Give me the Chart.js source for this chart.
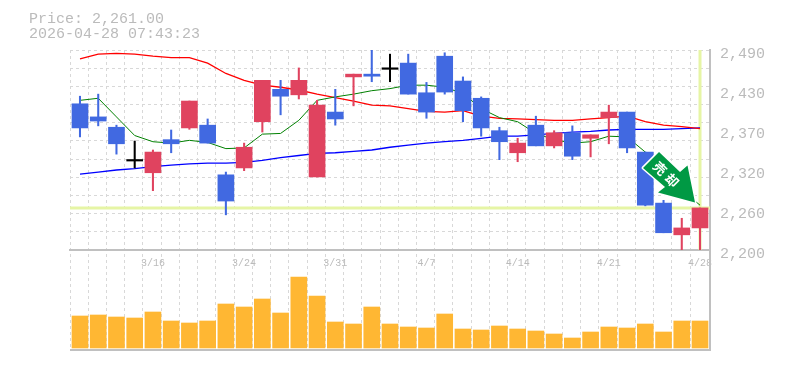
<!DOCTYPE html>
<html>
<head>
<meta charset="utf-8">
<style>
  html, body { margin: 0; padding: 0; background: #fff; }
  canvas { display: block; }
</style>
<script src="https://cdn.jsdelivr.net/npm/chart.js@4"></script>
</head>
<body>
<canvas id="priceChart" width="785" height="370"></canvas>
<script>
const dates = ["3/10","3/11","3/12","3/13","3/16","3/17","3/18","3/19","3/23","3/24","3/25","3/26","3/27","3/30","3/31",
  "4/1","4/2","4/3","4/6","4/7","4/8","4/9","4/10","4/13","4/14","4/15","4/16","4/17","4/20","4/21","4/22","4/23","4/24","4/27","4/28"];
const shownDates = ["3/16","3/24","3/31","4/7","4/14","4/21","4/28"];

const opens  = [2412,2393,2378,2329,2312,2360,2377,2381,2309,2319,2386,2433,2425,2306,2400,2451,2455,2462,2471,2428,2481,2445,2420,2373,2341,2381,2351,2370,2362,2392,2400,2342,2268,2222,2232];
const closes = [2377,2387,2354,2329,2342,2354,2416,2355,2271,2349,2446,2423,2446,2410,2390,2455,2452,2462,2426,2400,2429,2402,2377,2357,2355,2351,2370,2336,2367,2400,2348,2265,2225,2232,2261];
const highs  = [2423,2426,2381,2358,2345,2374,2416,2390,2313,2355,2446,2446,2464,2417,2433,2455,2490,2484,2484,2443,2486,2451,2422,2378,2362,2394,2373,2380,2367,2410,2400,2342,2272,2246,2261];
const lows   = [2364,2380,2339,2319,2286,2341,2375,2355,2251,2315,2371,2396,2419,2306,2381,2409,2444,2444,2426,2391,2426,2386,2365,2331,2328,2351,2348,2331,2335,2354,2341,2264,2225,2200,2200];

const maShort = [2417,2420,2393,2366,2357,2355,2359,2356,2347,2348,2368,2369,2388,2417,2422,2426,2431,2434,2439,2439,2436,2427,2405,2392,2386,2369,2360,2355,2357,2365,2364,2342,2316,2287,2265];
const maMid   = [2477,2484,2485,2484,2481,2479,2479,2471,2456,2446,2439,2436,2432,2426,2421,2416,2410,2409,2405,2401,2400,2402,2394,2391,2390,2389,2388,2388,2390,2392,2394,2386,2381,2379,2376];
const maLong  = [2310,2313,2316,2318,2321,2323,2325,2326,2326,2327,2330,2334,2337,2340,2341,2343,2345,2349,2352,2355,2357,2359,2362,2365,2365,2367,2369,2371,2372,2374,2375,2375,2375,2376,2377];

const volumes = [32,33,31,30,36,27,25,27,44,41,49,35,71,52,26,24,41,24,21,20,34,19,18,22,19,17,14,10,16,21,20,24,16,27,27];

const priceTicks = [2490,2432,2374,2316,2258,2200];
const priceTickLabels = ["2,490","2,430","2,370","2,320","2,260","2,200"];
const priceGrid = [2490,2463.64,2437.27,2410.91,2384.55,2358.18,2331.82,2305.45,2279.09,2252.73,2226.36,2200];
const lastPrice = 2261;
const titleLines = ["Price: 2,261.00", "2026-04-28 07:43:23"];
const signalChars = ["売", "却"];

const X_MIN = -0.548;
const X_MAX = 34.548;

const GRID = "#d8d8d8";
const AXIS = "#c0c0c0";
const TEXT = "#bbbbbb";
const PALE = "#e6f5a5";
const CLEAR = "rgba(0,0,0,0)";

function candleColor(i) {
  if (closes[i] > opens[i]) return "#e0435f";
  if (closes[i] < opens[i]) return "#4169e1";
  return "#000000";
}
const candleColors = dates.map((d, i) => candleColor(i));

function series(values) {
  return values.map((v, i) => ({ x: i, y: v }));
}

/* ==============================
   TITLE, PRICE MARKER, ARROW
============================== */
const decorPlugin = {
  id: "decor",
  beforeDatasetsDraw(chart) {
    const { ctx, scales: { x, price }, chartArea } = chart;
    const py = price.getPixelForValue(lastPrice);
    const px = x.getPixelForValue(dates.length - 1);
    ctx.save();
    ctx.strokeStyle = PALE;
    ctx.lineWidth = 3;
    ctx.beginPath();
    ctx.moveTo(chartArea.left, py);
    ctx.lineTo(chartArea.right, py);
    ctx.moveTo(px, price.top);
    ctx.lineTo(px, price.bottom);
    ctx.stroke();
    ctx.restore();
  },
  afterDatasetsDraw(chart) {
    const { ctx, scales: { x, price } } = chart;
    // arrow hangs off the last bar
    const tipX = x.getPixelForValue(dates.length - 1) - 5;
    const tipY = price.getPixelForValue(lastPrice) - 5.5;
    const outline = [[0,0],[-37,-10],[-30,-15.5],[-52,-34.5],[-36,-50.5],[-15,-30.5],[-7.5,-37]];
    ctx.save();
    ctx.translate(tipX, tipY);
    ctx.beginPath();
    outline.forEach((p, i) => i ? ctx.lineTo(p[0], p[1]) : ctx.moveTo(p[0], p[1]));
    ctx.closePath();
    ctx.lineJoin = "round";
    ctx.strokeStyle = "#ffffff";
    ctx.lineWidth = 3;
    ctx.stroke();
    ctx.fillStyle = "#009944";
    ctx.fill();
    ctx.translate(-29, -28);
    ctx.rotate(Math.PI / 4);
    ctx.fillStyle = "#ffffff";
    ctx.font = "bold 13px 'Noto Sans CJK JP'";
    ctx.textAlign = "center";
    ctx.textBaseline = "middle";
    signalChars.forEach((c, i) => ctx.fillText(c, (i - 0.5) * 17, 0));
    ctx.restore();
  },
  afterDraw(chart) {
    const { ctx } = chart;
    ctx.save();
    ctx.fillStyle = TEXT;
    ctx.font = "15px 'Liberation Mono'";
    ctx.textBaseline = "alphabetic";
    titleLines.forEach((t, i) => ctx.fillText(t, 29, 23 + i * 15));
    ctx.restore();
  }
};

new Chart(document.getElementById("priceChart").getContext("2d"), {
  type: "bar",
  plugins: [decorPlugin],
  data: {
    datasets: [
      { type: "line", data: series(maLong), yAxisID: "price", borderColor: "#0000ff", borderWidth: 1.3, pointRadius: 0, tension: 0, order: 5 },
      { type: "line", data: series(maMid), yAxisID: "price", borderColor: "#ff0000", borderWidth: 1.3, pointRadius: 0, tension: 0, order: 4 },
      { type: "line", data: series(maShort), yAxisID: "price", borderColor: "#008000", borderWidth: 1, pointRadius: 0, tension: 0, order: 3 },
      { data: dates.map((d, i) => ({ x: i, y: [lows[i], highs[i]] })), yAxisID: "price", backgroundColor: candleColors, barThickness: 1.4, grouped: false, order: 2 },
      { data: dates.map((d, i) => ({ x: i, y: [opens[i], closes[i]] })), yAxisID: "price", backgroundColor: candleColors, barThickness: 16, minBarLength: 1.5, grouped: false, order: 1 },
      { data: series(volumes), yAxisID: "volume", backgroundColor: "#ffb733", barThickness: 16, grouped: false, order: 6 }
    ]
  },
  options: {
    responsive: false,
    animation: false,
    layout: { padding: { left: 70, top: 50, bottom: 20, right: 0 } },
    plugins: { legend: { display: false }, tooltip: { enabled: false } },
    scales: {
      x: {
        type: "linear",
        position: { price: 2200 },
        offset: false,
        min: X_MIN,
        max: X_MAX,
        afterBuildTicks(axis) {
          const gridLines = dates.map((d, i) => i + X_MIN);
          const labelled = shownDates.map(d => dates.indexOf(d));
          axis.ticks = gridLines.concat(labelled).map(v => ({ value: v }));
        },
        grid: {
          offset: false,
          lineWidth: 1,
          drawTicks: false,
          color: (c) => Number.isInteger(c.tick.value) ? CLEAR : GRID
        },
        border: { display: true, color: AXIS, width: 2, dash: [3, 3] },
        ticks: {
          autoSkip: false,
          maxRotation: 0,
          padding: 7,
          color: TEXT,
          font: { family: "'Liberation Mono'", size: 10 },
          callback(v) { return Number.isInteger(v) ? dates[v] : ""; }
        }
      },
      price: {
        position: "right",
        stack: "panels",
        stackWeight: 2,
        min: 2200,
        max: 2490,
        afterBuildTicks(axis) {
          axis.ticks = priceGrid.concat(priceTicks.slice(1, -1)).map(v => ({ value: v }));
        },
        afterFit(axis) { axis.width = 75; },
        grid: {
          drawTicks: false,
          color: (c) => priceGrid.includes(c.tick.value) ? GRID : CLEAR
        },
        border: { display: true, color: AXIS, width: 2, dash: [3, 3] },
        ticks: {
          autoSkip: false,
          padding: 10,
          labelOffset: 4,
          color: TEXT,
          font: { family: "'Liberation Mono'", size: 15 },
          callback(v) {
            const k = priceTicks.indexOf(v);
            return k < 0 ? "" : priceTickLabels[k];
          }
        }
      },
      volume: {
        position: "right",
        stack: "panels",
        stackWeight: 1,
        min: -2,
        max: 98,
        afterBuildTicks(axis) { axis.ticks = [{ value: -2 }]; },
        afterFit(axis) { axis.width = 75; },
        grid: { drawTicks: false, color: AXIS, lineWidth: 2 },
        border: { display: true, color: AXIS, width: 2 },
        ticks: { display: false }
      }
    }
  }
});
</script>
</body>
</html>
